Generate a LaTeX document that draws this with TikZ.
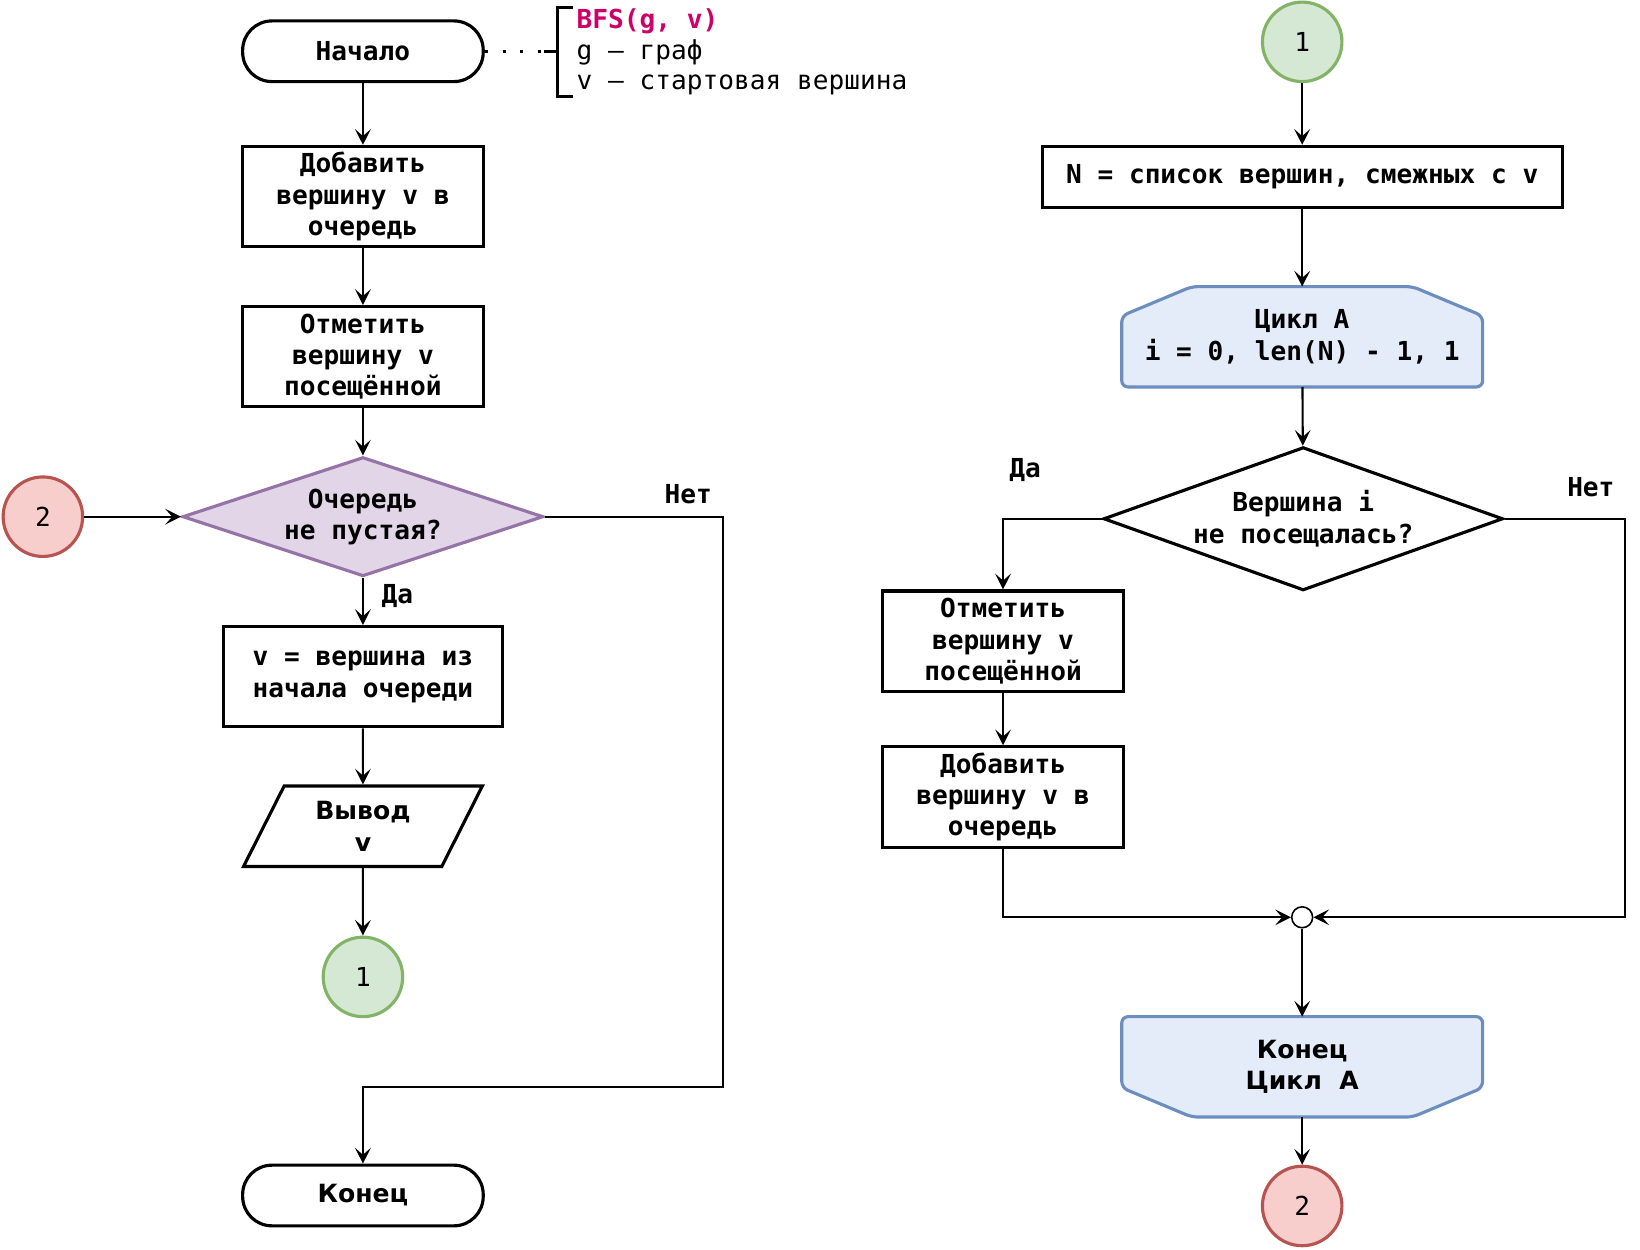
\documentclass[tikz,border=0pt]{standalone}
\usepackage{fontspec}
\setmonofont{DejaVu Sans Mono}
\newfontfamily\djs{DejaVu Sans}
\usetikzlibrary{arrows.meta,shapes.geometric,backgrounds}
\definecolor{lpurple}{HTML}{E1D5E7}
\definecolor{dpurple}{HTML}{9673A6}
\definecolor{lred}{HTML}{F8CECC}
\definecolor{dred}{HTML}{B85450}
\definecolor{lgreen}{HTML}{D5E8D4}
\definecolor{dgreen}{HTML}{82B366}
\definecolor{lblue}{HTML}{E4ECFA}
\definecolor{dblue}{HTML}{6C8EBF}
\definecolor{magent}{HTML}{CC0066}
\begin{document}
\begin{tikzpicture}[x=0.5pt,y=-0.5pt,
  base/.style={font=\ttfamily\bfseries\fontsize{12.5}{15}\selectfont, align=center, inner sep=0pt},
  proc/.style={base, draw, line width=1.5pt, rectangle, minimum width=115pt, minimum height=48pt},
  term/.style={base, draw, line width=1.5pt, rectangle, rounded corners=14pt, minimum width=115pt, minimum height=29pt},
  conn/.style={circle, draw, line width=1.5pt, minimum size=38pt, inner sep=0pt, font=\ttfamily\fontsize{12.5}{15}\selectfont},
  redc/.style={conn, draw=dred, fill=lred},
  greenc/.style={conn, draw=dgreen, fill=lgreen},
  loopbox/.style={base, rectangle, outer sep=0pt, minimum width=172.5pt, minimum height=48pt},
  hexline/.style={draw=dblue, fill=lblue, line width=1.5pt, rounded corners=3pt},
  arr/.style={-{Stealth[length=7.5pt,width=7.5pt,inset=3.3pt]}, line width=1pt},
  cmtxt/.style={anchor=base west, inner sep=0pt, font=\ttfamily\fontsize{12.5}{15}\selectfont},
  lbl/.style={base}
]
\useasboundingbox (0,0) rectangle (1568,1195);

% ---------- left column ----------
\node[term] (start) at (347,49) {Начало};
\node[proc] (b1) at (347,188) {Добавить\\вершину v в\\очередь};
\node[proc] (b2) at (347,341) {Отметить\\вершину v\\посещённой};
\node[diamond, draw=dpurple, fill=lpurple, line width=1.5pt, minimum width=172.5pt, minimum height=57pt, inner sep=0pt] (d1) at (347,494) {};
\node[base] (d1t) at (347,494) {Очередь\\не пустая?};
\node[redc] (c2a) at (41,494) {2};
\node[proc, minimum width=133.5pt] (b3) at (347,647) {v = вершина из\\начала очереди};
\node[trapezium, draw, line width=1.5pt, trapezium left angle=63.7, trapezium right angle=116.3,
  trapezium stretches=true, minimum width=115pt, minimum height=38.5pt, inner sep=0pt,
  align=center, font=\djs\bfseries\fontsize{12}{15}\selectfont] (out) at (347,790) {Вывод\\v};
\node[greenc] (c1a) at (347,934) {1};
\node[term, font=\djs\bfseries\fontsize{12}{15}\selectfont] (endl) at (347,1143) {Конец};

% comment
\coordinate (cm) at (520,49);
\draw[line width=1.2pt, dash pattern=on 1.5pt off 7pt] (start.east) -- (cm);
\draw[line width=1.5pt] (548,7) -- (533,7) -- (533,92) -- (548,92);
\draw[line width=1.5pt] (cm) -- (533,49);
\node[cmtxt, font=\ttfamily\bfseries\fontsize{12.5}{15}\selectfont, text=magent] (cmt1) at (551,27) {BFS(g, v)};
\node[cmtxt] (cmt2) at (551,57) {g – граф};
\node[cmtxt] (cmt3) at (551,86) {v – стартовая вершина};

\draw[arr] (start) -- (b1);
\draw[arr] (b1) -- (b2);
\draw[arr] (b2) -- (d1);
\draw[arr] (c2a) -- (d1);
\draw[arr] (d1) -- (b3);
\node[lbl] (yes1) at (380,570) {Да};
\draw[arr] (b3) -- (out);
\draw[arr] (out) -- (c1a);
\draw[arr] (d1.east) -- (691,494) -- (691,1039) -- (347,1039) -- (endl.north);
\node[lbl] (no1) at (658,472) {Нет};

% ---------- right column ----------
\node[greenc] (c1b) at (1245,40) {1};
\node[proc, minimum width=248.5pt, minimum height=29pt] (nlist) at (1245,169) {N = список вершин, смежных с v};
\node[loopbox] (loopA) at (1245,322) {Цикл A\\i = 0, len(N) - 1, 1};
\node[diamond, draw, line width=1.5pt, fill=white, minimum width=191pt, minimum height=68.5pt, inner sep=0pt] (d2) at (1246,496) {};
\node[base] (d2t) at (1246,496) {Вершина i\\не посещалась?};
\node[proc] (r1) at (959,613) {Отметить\\вершину v\\посещённой};
\node[proc] (r2) at (959,762) {Добавить\\вершину v в\\очередь};
\node[circle, draw, line width=0.75pt, fill=white, minimum size=10pt, inner sep=0pt] (m) at (1245,877) {};
\node[loopbox, font=\djs\bfseries\fontsize{12}{15}\selectfont] (loopE) at (1245,1020) {Конец\\Цикл\ \ А};
\node[redc] (c2b) at (1245,1153) {2};

\begin{scope}[on background layer]
  \fill[white] (0,0) rectangle (1568,1195);
  \path[hexline] ([xshift=33.5pt]loopA.north west) -- ([xshift=-33.5pt]loopA.north east)
    -- ([yshift=-14pt]loopA.north east) -- (loopA.south east) -- (loopA.south west)
    -- ([yshift=-14pt]loopA.north west) -- cycle;
  \path[hexline] (loopE.north west) -- (loopE.north east) -- ([yshift=14pt]loopE.south east)
    -- ([xshift=-33.5pt]loopE.south east) -- ([xshift=33.5pt]loopE.south west)
    -- ([yshift=14pt]loopE.south west) -- cycle;
\end{scope}

\draw[arr] (c1b) -- (nlist);
\draw[arr] (nlist) -- (loopA);
\draw[arr] (loopA) -- (d2);
\draw[arr] (d2.west) -| (r1.north);
\node[lbl] (yes2) at (980,449) {Да};
\draw[arr] (r1) -- (r2);
\draw[arr] (r2.south) |- (m.west);
\draw[arr] (d2.east) -- ++(115,0) |- (m.east);
\node[lbl] (no2) at (1521,466) {Нет};
\draw[arr] (m) -- (loopE);
\draw[arr] (loopE) -- (c2b);
\end{tikzpicture}
\end{document}
